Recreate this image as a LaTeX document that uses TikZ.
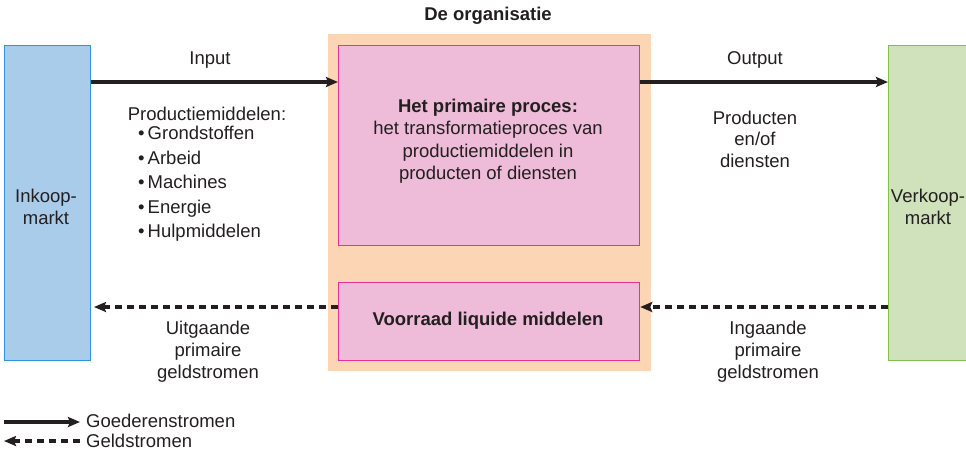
\documentclass[tikz,border=0pt]{standalone}
\usepackage{fontspec}
\setmainfont{Liberation Sans}
\usetikzlibrary{arrows.meta}
\definecolor{txt}{RGB}{35,31,32}
\definecolor{bluefill}{RGB}{170,204,235}
\definecolor{blueline}{RGB}{45,150,215}
\definecolor{greenfill}{RGB}{207,226,187}
\definecolor{greenline}{RGB}{130,190,80}
\definecolor{orgfill}{RGB}{252,214,180}
\definecolor{pinkfill}{RGB}{238,187,216}
\definecolor{pinkline}{RGB}{230,50,150}
\tikzset{
  lbl/.style={text=txt, font=\fontsize{18.5}{22}\selectfont, align=center, inner sep=0pt},
  boldlbl/.style={text=txt, font=\fontsize{18.5}{22}\selectfont\bfseries, align=center, inner sep=0pt},
  box/.style={anchor=north west, inner sep=0pt, line width=1.2pt},
  goods/.style={line width=3.5pt, draw=txt, -{Stealth[length=12pt,width=10pt,inset=2pt]}},
  money/.style={line width=3.5pt, draw=txt, dash pattern=on 7pt off 5pt, -{Stealth[length=12pt,width=10pt,inset=2pt]}}
}
\begin{document}
\begin{tikzpicture}[x=1pt,y=-1pt]
\useasboundingbox (0,0) rectangle (966,453);
% boxes
\node[box, fill=orgfill, minimum width=323pt, minimum height=337pt] (org) at (327,33) {};
\node[box, fill=bluefill, draw=blueline, minimum width=86pt, minimum height=315pt] (ink) at (4,45) {};
\node[box, fill=greenfill, draw=greenline, minimum width=82pt, minimum height=315pt] (ver) at (888,45) {};
\node[box, fill=pinkfill, draw=pinkline, minimum width=301pt, minimum height=200pt] (proc) at (338,45) {};
\node[box, fill=pinkfill, draw=pinkline, minimum width=301pt, minimum height=78pt] (voor) at (338,282) {};
% texts
\node[boldlbl] (title) at (488,16) {De organisatie};
\node[lbl] (inkt) at (46,207) {Inkoop-\\markt};
\node[lbl] (vert) at (928,207) {Verkoop-\\markt};
\node[boldlbl] (proct1) at (488,108) {Het primaire proces:};
\node[lbl, font=\fontsize{18.5}{22.5}\selectfont, anchor=north] (proct2) at (488,121) {het transformatieproces van\\productiemiddelen in\\producten of diensten};
\node[boldlbl] (voort) at (488,321) {Voorraad liquide middelen};
\node[lbl] (inp) at (210,60) {Input};
\node[lbl] (outp) at (755,60) {Output};
\node[lbl] (pm) at (207,114) {Productiemiddelen:};
\node[lbl, align=left, anchor=north west, font=\fontsize{18.5}{24.5}\selectfont] (bul) at (138,126)
  {\textbullet\,Grondstoffen\\\textbullet\,Arbeid\\\textbullet\,Machines\\\textbullet\,Energie\\\textbullet\,Hulpmiddelen};
\node[lbl, font=\fontsize{18.5}{21.5}\selectfont] (prod) at (755,139) {Producten\\en/of\\diensten};
\node[lbl] (uit) at (208,352) {Uitgaande\\primaire\\geldstromen};
\node[lbl] (ing) at (768,352) {Ingaande\\primaire\\geldstromen};
% arrows
\draw[goods] (ink.east |- 0,82) -- (proc.west |- 0,82);
\draw[goods] (proc.east |- 0,82) -- (ver.west |- 0,82);
\draw[money] (voor.west |- 0,307) -- (94,307);
\draw[money] (ver.west |- 0,307) -- (voor.east |- 0,307);
% legend
\coordinate (la) at (4,422);
\coordinate (lb) at (80,422);
\coordinate (lc) at (80,441);
\coordinate (ld) at (4,441);
\draw[goods] (la) -- (lb);
\draw[money] (lc) -- (ld);
\node[lbl, anchor=west] (lg1) at (86,421) {Goederenstromen};
\node[lbl, anchor=west] (lg2) at (86,441) {Geldstromen};
\end{tikzpicture}
\end{document}
